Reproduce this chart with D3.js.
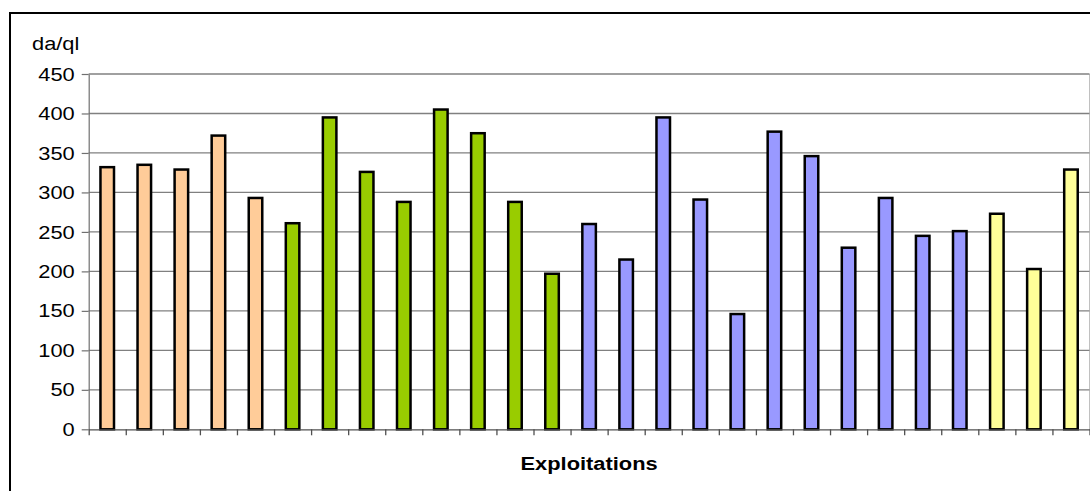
<!DOCTYPE html>
<html>
<head>
<meta charset="utf-8">
<script src="https://cdn.jsdelivr.net/npm/d3@7"></script>
<style>
  body { margin: 0; background: #fff; }
  svg text { font-family: "Liberation Sans", Arial, sans-serif; fill: #000; }
  .stretch { transform-box: fill-box; transform: scaleX(1.15); }
</style>
</head>
<body>
<svg id="chart" width="1090" height="491"></svg>
<script>
// values, one array per colour group
var orangeVals = [332, 335, 329, 372, 293];
var greenVals = [261, 395, 326, 288, 405, 375, 288, 197];
var blueVals = [260, 215, 395, 291, 146, 377, 346, 230, 293, 245, 251];
var yellowVals = [273, 203, 329];
var yTicks = [0, 50, 100, 150, 200, 250, 300, 350, 400, 450];
var yUnit = "da/ql";
var xTitle = "Exploitations";

var groups = [
  {vals: orangeVals, color: "#FFCC99"},
  {vals: greenVals, color: "#99CC00"},
  {vals: blueVals, color: "#9999FF"},
  {vals: yellowVals, color: "#FFFF99"}
];
var inputData = [];
groups.forEach(function(g) {
  g.vals.forEach(function(v) { inputData.push({i: inputData.length, y: v, color: g.color}); });
});

var svg = d3.select("#chart");

// outer frame (cut off by the window on the right and bottom)
svg.append("rect")
  .attr("x", 10).attr("y", 13)
  .attr("width", 1200).attr("height", 600)
  .attr("fill", "#fff").attr("stroke", "#000").attr("stroke-width", 2);

var margin = {left: 88.7, top: 74, right: 1089.5, bottom: 429.3};

var x = d3.scaleBand()
  .domain(inputData.map(function(d) { return d.i; }))
  .range([margin.left, margin.right])
  .paddingInner(0.635)
  .paddingOuter(0.3175);
var xb = d3.scaleLinear().domain([0, inputData.length]).range([margin.left, margin.right]);
var y = d3.scaleLinear().domain([0, 450]).range([margin.bottom, margin.top]);

// plot area right border (light)
svg.append("line")
  .attr("x1", margin.right).attr("x2", margin.right)
  .attr("y1", margin.top).attr("y2", margin.bottom)
  .attr("stroke", "#c0c0c0").attr("stroke-width", 1);

// gridlines
svg.append("g")
  .selectAll("line")
  .data(yTicks.filter(function(t) { return t > 0; }))
  .enter().append("line")
    .attr("x1", margin.left).attr("x2", margin.right)
    .attr("y1", function(d) { return y(d); })
    .attr("y2", function(d) { return y(d); })
    .attr("stroke", "#808080").attr("stroke-width", 1.3);

// bars
svg.append("g")
  .selectAll("rect")
  .data(inputData)
  .enter().append("rect")
    .attr("x", function(d) { return x(d.i); })
    .attr("y", function(d) { return y(d.y); })
    .attr("width", x.bandwidth())
    .attr("height", function(d) { return y(0) - y(d.y); })
    .attr("fill", function(d) { return d.color; })
    .attr("stroke", "#000").attr("stroke-width", 2.5);

// y axis
var yAxis = svg.append("g")
  .attr("transform", "translate(" + margin.left + ",0)")
  .call(d3.axisLeft(y).tickValues(yTicks).tickSize(7).tickSizeOuter(0).tickPadding(7));
yAxis.selectAll("line, path").attr("stroke", "#707070").attr("stroke-width", 1.2);
yAxis.selectAll("text")
  .attr("font-size", 19)
  .attr("font-family", "Liberation Sans, Arial, sans-serif")
  .style("transform-origin", "right center")
  .attr("class", "stretch");

// x axis with ticks between categories
var xAxis = svg.append("g")
  .attr("transform", "translate(0," + margin.bottom + ")")
  .call(d3.axisBottom(xb).tickValues(d3.range(0, inputData.length + 1)).tickFormat("").tickSize(6).tickSizeOuter(0));
xAxis.selectAll("line, path").attr("stroke", "#505050").attr("stroke-width", 1.3);

// unit label
svg.append("text")
  .attr("x", 32).attr("y", 50)
  .attr("font-size", 19)
  .attr("class", "stretch")
  .style("transform-origin", "left center")
  .text(yUnit);

// x title
svg.append("text")
  .attr("x", (margin.left + margin.right) / 2).attr("y", 470)
  .attr("text-anchor", "middle")
  .attr("font-size", 19)
  .attr("font-weight", "bold")
  .attr("class", "stretch")
  .style("transform-origin", "center center")
  .text(xTitle);
</script>
</body>
</html>
